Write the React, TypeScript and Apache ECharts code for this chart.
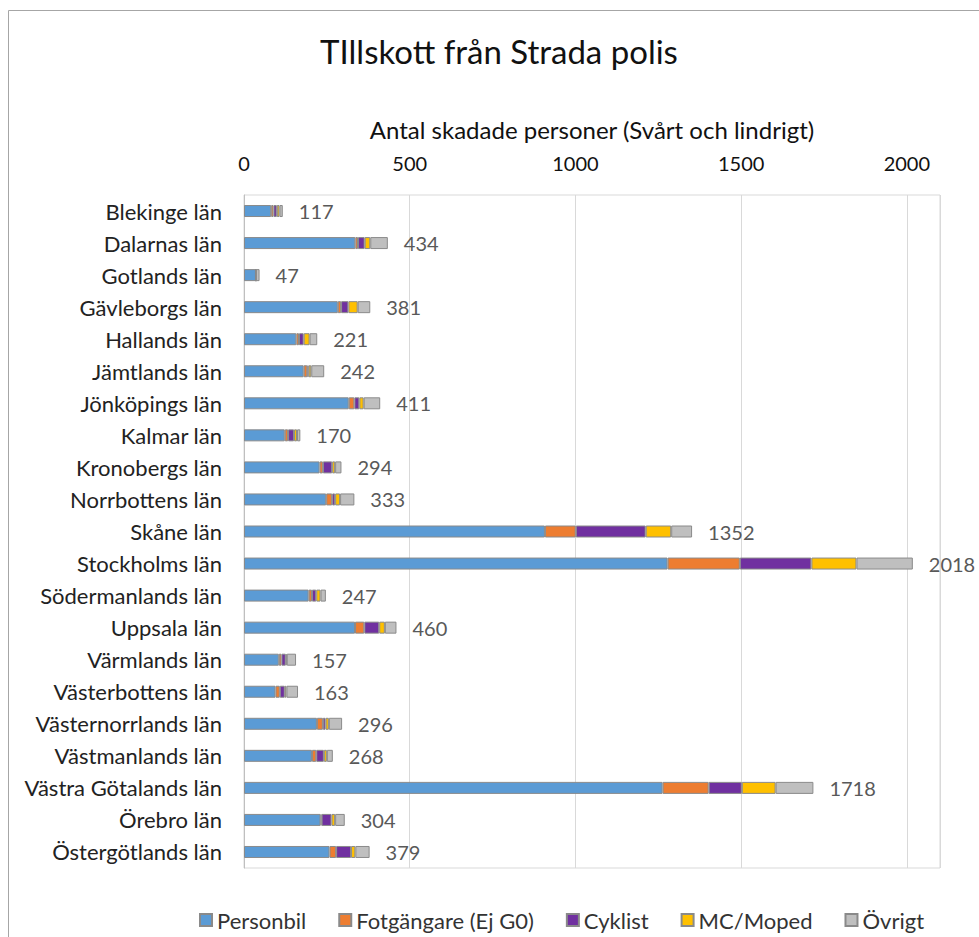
import React, { useEffect, useRef } from "react";
import * as echarts from "echarts";

const categories = [
  "Blekinge län", "Dalarnas län", "Gotlands län", "Gävleborgs län", "Hallands län",
  "Jämtlands län", "Jönköpings län", "Kalmar län", "Kronobergs län", "Norrbottens län",
  "Skåne län", "Stockholms län", "Södermanlands län", "Uppsala län", "Värmlands län",
  "Västerbottens län", "Västernorrlands län", "Västmanlands län", "Västra Götalands län",
  "Örebro län", "Östergötlands län",
];

const personbil = [82, 336, 36, 283, 158, 180, 316, 123, 228, 248, 908, 1278, 195, 335, 105, 95, 220, 205, 1263, 231, 258];
const fotgangare = [7, 8, 0, 10, 8, 11, 17, 10, 10, 18, 93, 218, 10, 28, 8, 13, 18, 13, 139, 3, 20];
const cyklist = [10, 20, 0, 22, 14, 4, 15, 18, 28, 9, 211, 216, 13, 45, 13, 15, 8, 23, 100, 30, 45];
const mcMoped = [8, 17, 0, 28, 18, 8, 13, 9, 9, 15, 77, 136, 13, 17, 3, 5, 10, 9, 102, 11, 13];
const ovrigt = [10, 53, 11, 38, 23, 39, 50, 10, 19, 43, 63, 170, 16, 35, 28, 35, 40, 18, 114, 29, 43];
const totals = [117, 434, 47, 381, 221, 242, 411, 170, 294, 333, 1352, 2018, 247, 460, 157, 163, 296, 268, 1718, 304, 379];

const seriesNames = ["Personbil", "Fotgängare (Ej G0)", "Cyklist", "MC/Moped", "Övrigt"];
const seriesColors = ["#5B9BD5", "#ED7D31", "#7030A0", "#FFC000", "#BFBFBF"];
const seriesData = [personbil, fotgangare, cyklist, mcMoped, ovrigt];

const FONT = "Lato";

export default function App() {
  const ref = useRef<HTMLDivElement>(null);
  useEffect(() => {
    if (!ref.current) return;
    const chart = echarts.init(ref.current, undefined, { renderer: "svg" });
    const series = seriesData.map((d, i) => ({
      name: seriesNames[i],
      type: "bar",
      stack: "total",
      data: d,
      barWidth: 12,
      itemStyle: { color: seriesColors[i], borderColor: "#8a8a8a", borderWidth: 1 },
      label:
        i === seriesData.length - 1
          ? {
              show: true,
              position: "right",
              distance: 16,
              formatter: (p: any) => String(totals[p.dataIndex]),
              color: "#595959",
              fontSize: 20,
              fontFamily: FONT,
            }
          : { show: false },
    }));
    chart.setOption({
      animation: false,
      backgroundColor: "#ffffff",
      textStyle: { fontFamily: FONT },
      graphic: [
        { type: "line", shape: { x1: 8.5, y1: 10.5, x2: 979, y2: 10.5 }, style: { stroke: "#a6a6a6", lineWidth: 1 } },
        { type: "line", shape: { x1: 8.5, y1: 10.5, x2: 8.5, y2: 937 }, style: { stroke: "#a6a6a6", lineWidth: 1 } },
        {
          type: "text",
          x: 499,
          y: 51,
          style: {
            text: "TIllskott från Strada polis",
            fontSize: 33,
            fontFamily: FONT,
            fill: "#111111",
            textAlign: "center",
            textVerticalAlign: "middle",
          },
        },
      ],
      legend: {
        data: seriesNames,
        left: 199,
        top: 909,
        padding: 0,
        itemGap: 32,
        itemWidth: 12,
        itemHeight: 12,
        icon: "rect",
        textStyle: { fontSize: 22, fontFamily: FONT, color: "#333333" },
      },
      grid: { left: 244, right: 39, top: 195, bottom: 69, containLabel: false, show: true, borderColor: "#d9d9d9", borderWidth: 1 },
      xAxis: {
        type: "value",
        position: "top",
        min: 0,
        max: 2100,
        interval: 500,
        name: "Antal skadade personer (Svårt och lindrigt)",
        nameLocation: "middle",
        nameGap: 54,
        nameTextStyle: { fontSize: 24, fontFamily: FONT, color: "#111111" },
        axisLine: { show: false },
        axisTick: { show: false },
        axisLabel: {
          showMaxLabel: false,
          margin: 22,
          fontSize: 20,
          fontFamily: FONT,
          color: "#111111",
          formatter: (v: number) => String(v),
        },
        splitLine: { show: true, lineStyle: { color: "#d9d9d9", width: 1 } },
      },
      yAxis: {
        type: "category",
        data: categories,
        inverse: true,
        axisLine: { show: true, lineStyle: { color: "#bfbfbf" } },
        axisTick: { show: false },
        axisLabel: { margin: 22, fontSize: 22, fontFamily: FONT, color: "#222222" },
        splitLine: { show: false },
      },
      series,
    });
    return () => chart.dispose();
  }, []);
  return <div ref={ref} style={{ position: "fixed", left: 0, top: 0, width: 979, height: 937 }} />;
}
